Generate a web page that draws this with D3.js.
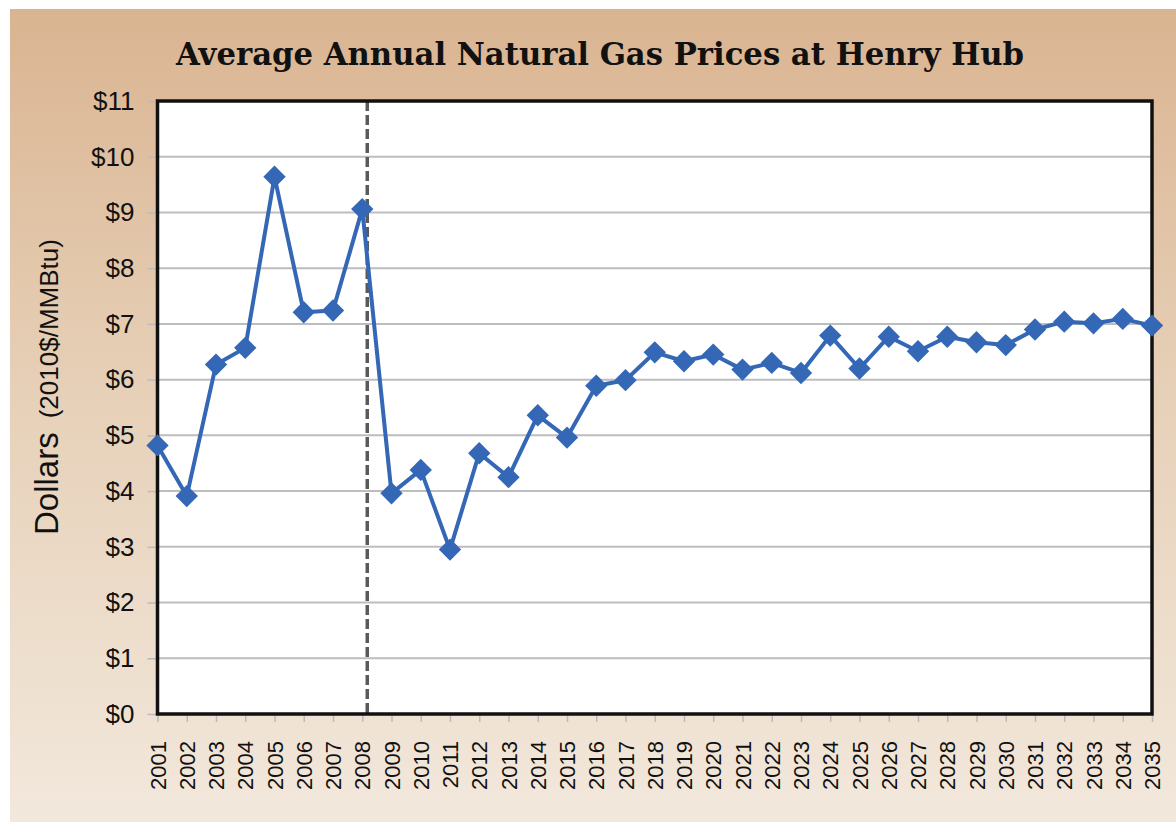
<!DOCTYPE html>
<html><head><meta charset="utf-8">
<script src="https://cdn.jsdelivr.net/npm/d3@7"></script>
<style>html,body{margin:0;padding:0;background:#fff;}svg{display:block;}</style>
</head><body>
<svg id="chart" width="1176" height="823"></svg>
<script>
const title = "Average Annual Natural Gas Prices at Henry Hub";
const years = [2001,2002,2003,2004,2005,2006,2007,2008,2009,2010,2011,2012,2013,2014,2015,2016,2017,2018,2019,2020,2021,2022,2023,2024,2025,2026,2027,2028,2029,2030,2031,2032,2033,2034,2035];
const prices = [4.82,3.91,6.27,6.57,9.64,7.21,7.24,9.06,3.96,4.38,2.95,4.68,4.25,5.36,4.96,5.89,5.99,6.49,6.33,6.45,6.18,6.30,6.12,6.79,6.20,6.77,6.51,6.77,6.67,6.62,6.90,7.04,7.01,7.09,6.97];
const yTicks = [0,1,2,3,4,5,6,7,8,9,10,11];
const dividerYear = 2008;
const yTitleMain = "Dollars";
const yTitleUnit = "(2010$/MMBtu)";

const svg = d3.select("#chart");
const defs = svg.append("defs");
const grad = defs.append("linearGradient").attr("id","bg").attr("x1",0).attr("y1",0).attr("x2",0).attr("y2",1);
grad.append("stop").attr("offset","0%").attr("stop-color","#dab491");
grad.append("stop").attr("offset","45%").attr("stop-color","#e6cfb6");
grad.append("stop").attr("offset","100%").attr("stop-color","#f2e8dc");

svg.append("rect").attr("x",10).attr("y",9).attr("width",1166).attr("height",813).attr("fill","url(#bg)");

const L = 157.5, R = 1152, T = 101, B = 714;
const x = d3.scalePoint().domain(years).range([L, R]);
const y = d3.scaleLinear().domain([0, 11]).range([B, T]);

// title
const tt = svg.append("text").attr("x", 600).attr("y", 65).attr("text-anchor","middle")
  .attr("font-family","'DejaVu Serif', serif").attr("font-weight","bold").attr("font-size",32)
  .attr("fill","#111").text(title);
tt.attr("textLength", 848).attr("lengthAdjust","spacingAndGlyphs");

// plot bg
svg.append("rect").attr("x",L).attr("y",T).attr("width",R-L).attr("height",B-T).attr("fill","#fff");

// gridlines
svg.append("g").selectAll("line").data(yTicks.filter(d=>d>0 && d<11)).join("line")
  .attr("x1",L).attr("x2",R).attr("y1",d=>y(d)).attr("y2",d=>y(d))
  .attr("stroke","#bdbdbd").attr("stroke-width",2);

// y axis
const yAxis = svg.append("g").attr("transform",`translate(${L},0)`)
  .call(d3.axisLeft(y).tickValues(yTicks).tickFormat(d=>"$"+d).tickSize(10).tickPadding(13));
yAxis.select(".domain").remove();
yAxis.selectAll(".tick line").attr("stroke","#bbb").attr("stroke-width",1.5);
yAxis.selectAll(".tick text").attr("font-family","'Liberation Sans', Arial, sans-serif").attr("font-size",26).attr("fill","#111");

// x axis
const xAxis = svg.append("g").attr("transform",`translate(0,${B})`)
  .call(d3.axisBottom(x).tickSize(8).tickPadding(6));
xAxis.select(".domain").remove();
xAxis.selectAll(".tick line").attr("stroke","#bbb").attr("stroke-width",1.5);
xAxis.selectAll(".tick text").attr("font-family","'Liberation Sans', Arial, sans-serif").attr("font-size",22).attr("fill","#111")
  .attr("transform","rotate(-90)").attr("text-anchor","end").attr("x",-27).attr("y",0).attr("dy","0.35em");

// divider
svg.append("line").attr("x1",x(dividerYear)+5).attr("x2",x(dividerYear)+5).attr("y1",T).attr("y2",B)
  .attr("stroke","#5a5a5a").attr("stroke-width",3.5).attr("stroke-dasharray","10,4");

// frame
svg.append("rect").attr("x",L).attr("y",T).attr("width",R-L).attr("height",B-T)
  .attr("fill","none").attr("stroke","#111").attr("stroke-width",3.5);

// line
const line = d3.line().x((d,i)=>x(years[i])).y(d=>y(d));
svg.append("path").datum(prices).attr("d",line).attr("fill","none").attr("stroke","#3467b6").attr("stroke-width",4).attr("stroke-linejoin","round");

// markers
svg.append("g").selectAll("path").data(prices).join("path")
  .attr("d", d3.symbol().type(d3.symbolSquare).size(250))
  .attr("transform",(d,i)=>`translate(${x(years[i])},${y(d)}) rotate(45)`)
  .attr("fill","#3467b6");

// y title
const yt = svg.append("text").attr("transform","translate(58,535) rotate(-90)")
  .attr("font-family","'Liberation Sans', Arial, sans-serif").attr("fill","#111");
yt.append("tspan").attr("font-size",33).text(yTitleMain);
yt.append("tspan").attr("font-size",26).attr("dx",14).text(yTitleUnit);
</script>
</body></html>
